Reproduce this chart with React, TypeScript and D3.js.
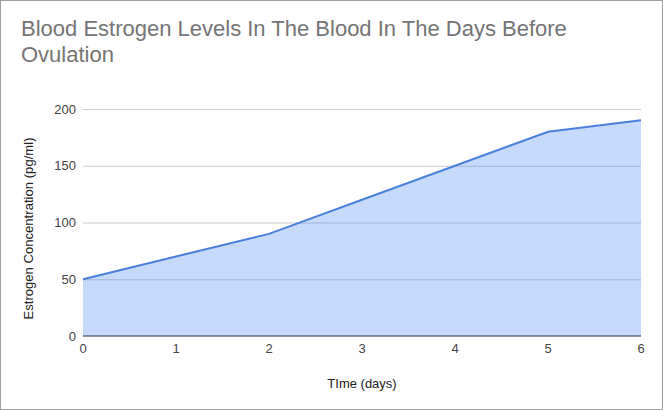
import React from 'react';
import { scaleLinear, area, line } from 'd3';

const days = [0, 1, 2, 3, 4, 5, 6];
const estrogen = [50, 70, 90, 120, 150, 180, 190];
const yTicks = [0, 50, 100, 150, 200];
const titleLines = ['Blood Estrogen Levels In The Blood In The Days Before', 'Ovulation'];

const W = 663;
const H = 410;
const margin = { top: 109, right: 22, bottom: 74, left: 83 };

export default function App() {
    const x = scaleLinear().domain([0, 6]).range([margin.left, W - margin.right]);
    const y = scaleLinear().domain([0, 200]).range([H - margin.bottom, margin.top]);

    const pts = days.map((d, i) => ({ d, v: estrogen[i] }));
    const areaPath = area<{ d: number; v: number }>()
        .x(p => x(p.d))
        .y0(y(0))
        .y1(p => y(p.v))(pts) as string;
    const linePath = line<{ d: number; v: number }>()
        .x(p => x(p.d))
        .y(p => y(p.v))(pts) as string;

    const font = '"Liberation Sans", Arial, sans-serif';

    return (
        <svg width={W} height={H} style={{ position: 'absolute', left: 0, top: 0 }} fontFamily={font}>
            <rect x={0.5} y={0.5} width={W - 1} height={H - 1} fill="#fff" stroke="#9e9e9e" />
            {titleLines.map((t, i) => (
                <text key={i} x={21} y={36 + i * 26} fontSize={22} fill="#757575">{t}</text>
            ))}

            {yTicks.map(t => (
                <g key={t}>
                    {t !== 0 && (
                        <line x1={x(0)} x2={x(6)} y1={y(t) + 0.5} y2={y(t) + 0.5} stroke="#cccccc" />
                    )}
                    <text x={76} y={y(t) + 4.5} fontSize={13} fill="#444" textAnchor="end">{t}</text>
                </g>
            ))}

            <path d={areaPath} fill="#4285f4" fillOpacity={0.3} />
            <path d={linePath} fill="none" stroke="#4a80dc" strokeWidth={2} />
            <line x1={x(0)} x2={x(6)} y1={y(0)} y2={y(0)} stroke="#5f6b7a" strokeWidth={1.5} />

            {days.map(d => (
                <text key={d} x={x(d)} y={353} fontSize={13} fill="#444" textAnchor="middle">{d}</text>
            ))}

            <text x={362} y={388} fontSize={13} fill="#222" textAnchor="middle">TIme (days)</text>
            <text
                transform={`translate(33, ${(y(0) + y(200)) / 2 + 6}) rotate(-90)`}
                fontSize={13}
                fill="#222"
                textAnchor="middle"
                textLength={182}
                lengthAdjust="spacing"
            >
                Estrogen Concentration (pg/ml)
            </text>
        </svg>
    );
}
